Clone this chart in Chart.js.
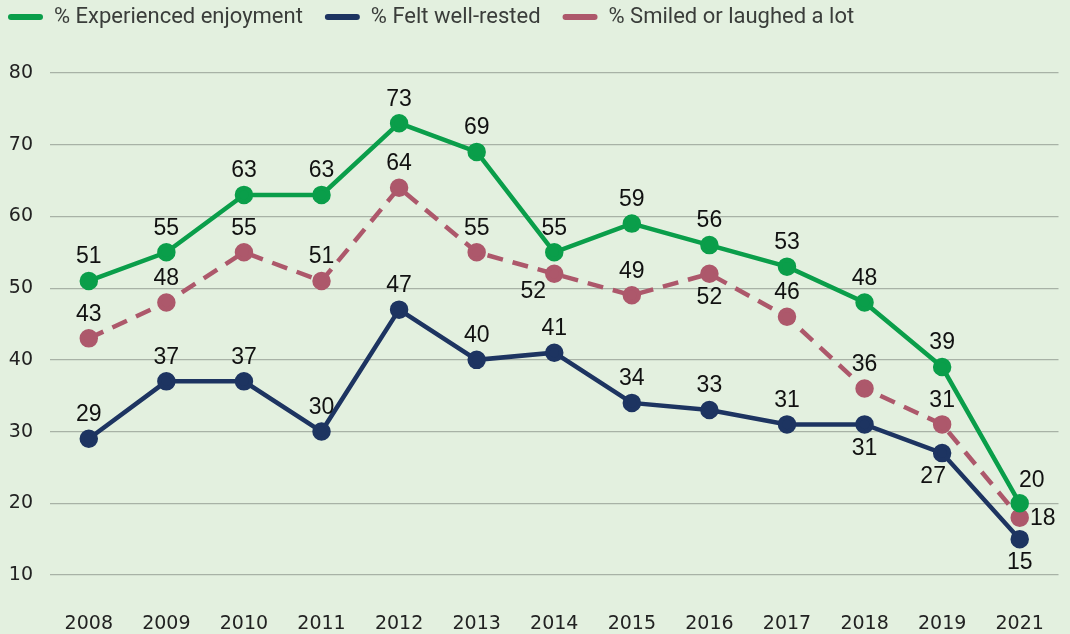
<!DOCTYPE html>
<html>
<head>
<meta charset="utf-8">
<script src="https://cdn.jsdelivr.net/npm/chart.js@4"></script>
<style>
  html, body { margin: 0; padding: 0; background: #E3F0DF; }
  #wrap { width: 1070px; height: 634px; }
</style>
</head>
<body>
<div id="wrap"><canvas id="chart"></canvas></div>
<script>
const years = ["2008", "2009", "2010", "2011", "2012", "2013", "2014", "2015", "2016", "2017", "2018", "2019", "2021"];
const enjoyment = [51, 55, 63, 63, 73, 69, 55, 59, 56, 53, 48, 39, 20];
const wellRested = [29, 37, 37, 30, 47, 40, 41, 34, 33, 31, 31, 27, 15];
const smiled = [43, 48, 55, 51, 64, 55, 52, 49, 52, 46, 36, 31, 18];
const yTicks = [10, 20, 30, 40, 50, 60, 70, 80];

const GREEN = '#0A9E4A';
const NAVY = '#1D3461';
const PINK = '#AD586B';

// where each value label sits relative to its point
const placeGreen = ['up','up','up','up','up','up','up','up','up','up','up','up','upright'];
const placeNavy = ['up','up','up','up','up','up','up','up','up','up','down','downwest','down'];
const placePink = ['up','up','up','up','up','up','downleft','up','down','up','up','up','right'];
const labelShift = {
    up: [0, -24], down: [0, 24], downleft: [-21, 18], downwest: [-9, 24],
    right: [23, 1], upright: [12, -23]
};

const valueLabels = {
    id: 'valueLabels',
    afterDatasetsDraw(chart) {
        const ctx = chart.ctx;
        ctx.save();
        ctx.font = "23px 'Liberation Sans', Arial, sans-serif";
        ctx.fillStyle = '#111';
        ctx.textAlign = 'center';
        ctx.textBaseline = 'middle';
        chart.data.datasets.forEach((ds, i) => {
            const meta = chart.getDatasetMeta(i);
            meta.data.forEach((pt, j) => {
                const s = labelShift[ds.labelPlace[j]];
                ctx.fillText(String(ds.data[j]), pt.x + s[0], pt.y + s[1]);
            });
        });
        ctx.restore();
    }
};

// make the legend block tall enough so the plot starts where the original does
const legendHeight = {
    id: 'legendHeight',
    beforeInit(chart) {
        const lg = chart.legend;
        if (!lg) return;
        const fit = lg.fit;
        lg.fit = function () {
            fit.call(this);
            this.height = 89;
        };
    }
};

const ctx = document.getElementById('chart').getContext('2d');
new Chart(ctx, {
    type: 'line',
    data: {
        labels: years,
        datasets: [
            {
                label: '% Experienced enjoyment',
                data: enjoyment,
                borderColor: GREEN,
                backgroundColor: GREEN,
                borderWidth: 4.5,
                pointRadius: 7,
                pointHoverRadius: 7,
                labelPlace: placeGreen
            },
            {
                label: '% Felt well-rested',
                data: wellRested,
                borderColor: NAVY,
                backgroundColor: NAVY,
                borderWidth: 4.5,
                pointRadius: 7,
                pointHoverRadius: 7,
                labelPlace: placeNavy
            },
            {
                label: '% Smiled or laughed a lot',
                data: smiled,
                borderColor: PINK,
                backgroundColor: PINK,
                borderWidth: 4.5,
                borderDash: [16, 10],
                pointRadius: 7,
                pointHoverRadius: 7,
                labelPlace: placePink
            }
        ]
    },
    options: {
        responsive: true,
        maintainAspectRatio: false,
        animation: false,
        layout: { padding: { left: -14, right: 0, top: -16, bottom: 0 } },
        plugins: {
            tooltip: { enabled: false },
            legend: {
                position: 'top',
                align: 'start',
                labels: {
                    font: { family: "Roboto, sans-serif", size: 22 },
                    color: '#3A3D3A',
                    boxWidth: 35,
                    boxHeight: 6,
                    useBorderRadius: true,
                    borderRadius: 3,
                    padding: 22,
                    generateLabels(chart) {
                        return chart.data.datasets.map((ds, i) => ({
                            text: ds.label,
                            fillStyle: ds.borderColor,
                            strokeStyle: ds.borderColor,
                            lineWidth: 0,
                            fontColor: '#3A3D3A',
                            borderRadius: 3,
                            datasetIndex: i
                        }));
                    }
                }
            }
        },
        scales: {
            x: {
                offset: true,
                grid: { display: false, drawTicks: true, tickLength: 34 },
                border: { display: false },
                afterFit(axis) {
                    axis.height = 59;
                },
                ticks: {
                    font: { family: "'DejaVu Sans', sans-serif", size: 19 },
                    color: '#222',
                    padding: 4
                }
            },
            y: {
                min: 10,
                max: 80,
                afterBuildTicks(axis) {
                    axis.ticks = yTicks.map(v => ({ value: v }));
                },
                afterFit(axis) {
                    axis.width = 64;
                },
                grid: { color: '#A8B2A6', lineWidth: 1.2, drawTicks: false },
                border: { display: false },
                ticks: {
                    font: { family: "'DejaVu Sans', sans-serif", size: 19 },
                    color: '#222',
                    padding: 17
                }
            }
        }
    },
    plugins: [valueLabels, legendHeight]
});
</script>
</body>
</html>
